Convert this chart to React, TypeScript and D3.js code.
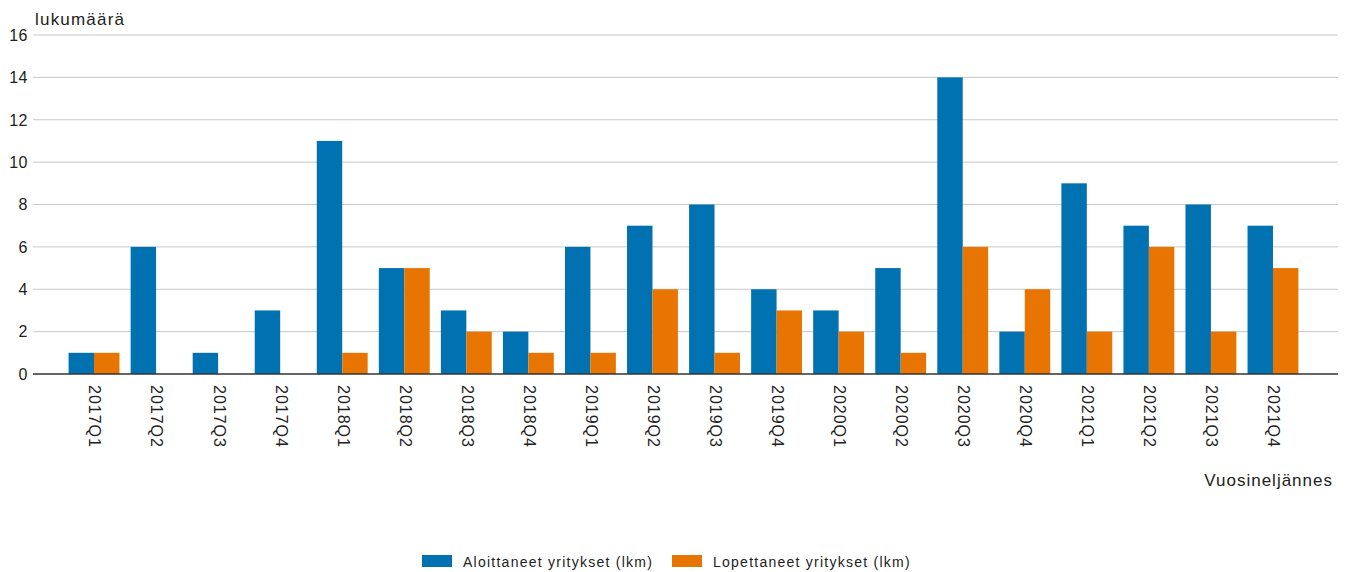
import React from "react";
import * as d3 from "d3";

const categories = ["2017Q1","2017Q2","2017Q3","2017Q4","2018Q1","2018Q2","2018Q3","2018Q4","2019Q1","2019Q2","2019Q3","2019Q4","2020Q1","2020Q2","2020Q3","2020Q4","2021Q1","2021Q2","2021Q3","2021Q4"];
const aloittaneet = [1,6,1,3,11,5,3,2,6,7,8,4,3,5,14,2,9,7,8,7];
const lopettaneet = [1,0,0,0,1,5,2,1,1,4,1,3,2,1,6,4,2,6,2,5];
const yTicks = [0,2,4,6,8,10,12,14,16];
const seriesNames = ["Aloittaneet yritykset (lkm)", "Lopettaneet yritykset (lkm)"];
const colors = ["#0072B2", "#E87502"];

export default function App() {
  const W = 1349, H = 572;
  const plotLeft = 33, plotRight = 1338;
  const y = d3.scaleLinear().domain([0, 16]).range([374, 35]);
  const x = d3.scaleBand<string>().domain(categories).range([63, 1304]).paddingInner(0.18).paddingOuter(0.09);
  const inner = d3.scaleBand<number>().domain([0, 1]).range([0, x.bandwidth()]);
  const series = [aloittaneet, lopettaneet];
  const font = "'Liberation Sans', Arial, sans-serif";
  return (
    <svg width={W} height={H} style={{ position: "absolute", left: 0, top: 0 }} fontFamily={font}>
      {yTicks.map((t) => (
        <g key={t}>
          {t !== 0 && <line x1={plotLeft} x2={plotRight} y1={y(t)} y2={y(t)} stroke="#c8c8c8" strokeWidth={1} />}
          <text x={28} y={y(t)} dy="0.36em" textAnchor="end" fontSize={16} fill="#222" letterSpacing={0.5}>{t}</text>
        </g>
      ))}
      {series.map((vals, si) =>
        vals.map((v, i) => (
          <rect key={si + "-" + i}
            x={(x(categories[i]) as number) + (inner(si) as number)}
            width={inner.bandwidth()}
            y={y(v)}
            height={y(0) - y(v)}
            fill={colors[si]} />
        ))
      )}
      <line x1={plotLeft} x2={plotRight} y1={y(0)} y2={y(0)} stroke="#333" strokeWidth={1.5} />
      {categories.map((c) => {
        const cx = (x(c) as number) + x.bandwidth() / 2;
        return (
          <text key={c} transform={`translate(${cx + 1},${385}) rotate(90)`} dy="0.35em" fontSize={16} fill="#222" letterSpacing={1}>{c}</text>
        );
      })}
      <text x={35} y={25} fontSize={17} fill="#222" letterSpacing={1.2}>lukumäärä</text>
      <text x={1333} y={486} textAnchor="end" fontSize={17} fill="#222" letterSpacing={1}>Vuosineljännes</text>
      {seriesNames.map((n, i) => {
        const lx = i === 0 ? 422 : 672;
        return (
          <g key={n}>
            <rect x={lx} y={555} width={30} height={12} fill={colors[i]} />
            <text x={lx + 41} y={567} fontSize={14} fill="#222" letterSpacing={1.25}>{n}</text>
          </g>
        );
      })}
    </svg>
  );
}
